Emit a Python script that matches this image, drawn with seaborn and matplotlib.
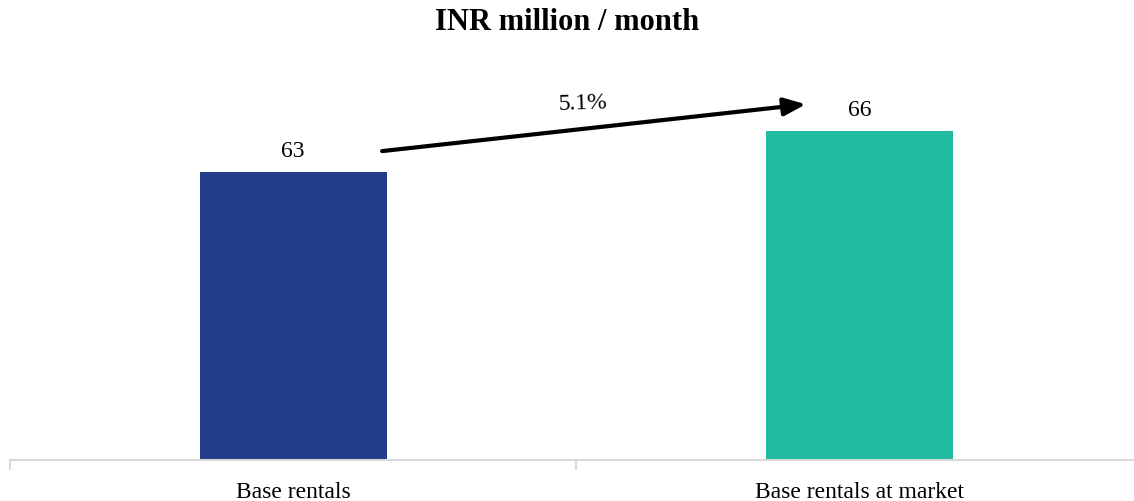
import matplotlib
matplotlib.use("Agg")
import numpy as np
import pandas as pd
import seaborn as sns
from matplotlib import pyplot as plt

# Chart data
categories = ["Base rentals", "Base rentals at market"]
values = [63, 66]
bar_colors = ["#223d8a", "#22baa0"]
growth_label = "5.1%"
title = "INR million / month"

sns.set_theme(style="white")
plt.rcParams["font.family"] = ["Liberation Serif", "DejaVu Serif"]
plt.rcParams["text.color"] = "black"
plt.rcParams["xtick.color"] = "black"

df = pd.DataFrame({"category": categories, "value": values})

fig = plt.figure(figsize=(11.34, 5.02), dpi=100)
ax = fig.add_axes([0.0088, 0.0817, 0.999, 0.764])

sns.barplot(
    data=df,
    x="category",
    y="value",
    hue="category",
    palette=bar_colors,
    saturation=1,
    width=0.33,
    linewidth=0,
    legend=False,
    ax=ax,
)

ax.set_ylim(42, 70)
ax.set_xlim(-0.5, 1.5)

# Value labels above bars
for i, v in enumerate(values):
    ax.annotate(
        f"{v}",
        xy=(i, v),
        xytext=(0, 16),
        textcoords="offset points",
        ha="center",
        va="center",
        fontsize=17,
        color="black",
    )

# Growth arrow between bars
ax.annotate(
    "",
    xy=(0.905, 67.97),
    xytext=(0.157, 64.55),
    arrowprops=dict(
        arrowstyle="-|>,head_length=1.1,head_width=0.45",
        color="black",
        lw=3,
        shrinkA=0,
        shrinkB=0,
    ),
)
ax.text(0.512, 68.1, growth_label, ha="center", va="center", fontsize=17,
        rotation=2, color="black")

# Axis styling
for side in ["left", "right", "top"]:
    ax.spines[side].set_visible(False)
ax.spines["bottom"].set_color("#d9d9d9")
ax.spines["bottom"].set_linewidth(1.5)
ax.set_yticks([])
ax.set_xlabel("")
ax.set_ylabel("")
ax.tick_params(axis="x", which="major", length=0, labelsize=17, pad=15,
               labelcolor="black")
ax.set_xticks([-0.5, 0.5, 1.5], minor=True)
ax.tick_params(axis="x", which="minor", length=7, width=1.5, color="#d9d9d9",
               bottom=True)

fig.text(0.5, 0.955, title, ha="center", va="center", fontsize=22,
         fontweight="bold", color="black")

fig.savefig("out.png", dpi=100)
